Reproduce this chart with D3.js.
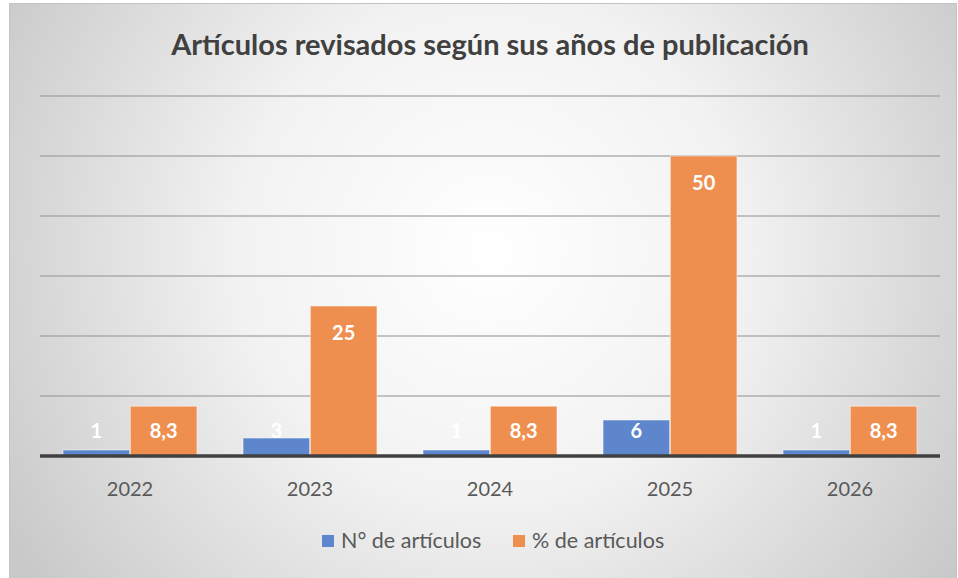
<!DOCTYPE html>
<html>
<head>
<meta charset="utf-8">
<script src="https://cdn.jsdelivr.net/npm/d3@7"></script>
<style>
  html, body { margin: 0; padding: 0; background: #ffffff; }
  svg text { font-family: Lato, "Open Sans", sans-serif; }
</style>
</head>
<body>
<div id="container"></div>
<script>
/* DATA */
const years = ["2022", "2023", "2024", "2025", "2026"];
const numArticulos = [1, 3, 1, 6, 1];
const pctArticulos = [8.3, 25, 8.3, 50, 8.3];
const seriesNames = ["N° de artículos", "% de artículos"];
const yTicks = [0, 10, 20, 30, 40, 50, 60];

/* CONSTANTS */
const width = 958, height = 578;
const margin = {top: 96, bottom: 122, left: 40, right: 18};
const colors = ["#5E86CD", "#EF8F4F"];

const svg = d3.select("#container").append("svg")
    .attr("width", width)
    .attr("height", height);

// background gradient
const defs = svg.append("defs");
const grad = defs.append("radialGradient")
    .attr("id", "bg")
    .attr("gradientUnits", "userSpaceOnUse")
    .attr("cx", 490).attr("cy", 250).attr("r", 560);
grad.append("stop").attr("offset", "0%").attr("stop-color", "#ffffff");
grad.append("stop").attr("offset", "45%").attr("stop-color", "#f2f2f2");
grad.append("stop").attr("offset", "100%").attr("stop-color", "#c9c9c9");

svg.append("rect")
    .attr("x", 9.5).attr("y", 3.5)
    .attr("width", 947).attr("height", 580)
    .attr("fill", "url(#bg)")
    .attr("stroke", "#c4c4c4")
    .attr("stroke-width", 1);

/* SCALES */
const x0 = d3.scaleBand()
    .domain(years)
    .range([margin.left, width - margin.right])
    .paddingInner(0.256)
    .paddingOuter(0.128);

const x1 = d3.scaleBand()
    .domain([0, 1])
    .range([0, x0.bandwidth()])
    .paddingInner(0.01);

const y = d3.scaleLinear()
    .domain([0, 60])
    .range([height - margin.bottom, margin.top]);

const plotLeft = margin.left, plotRight = width - margin.right;

// gridlines
svg.append("g")
    .selectAll("line")
    .data(yTicks.filter(d => d > 0))
    .join("line")
    .attr("x1", plotLeft).attr("x2", plotRight)
    .attr("y1", d => y(d)).attr("y2", d => y(d))
    .attr("stroke", "#9a9a9a")
    .attr("stroke-opacity", 0.75)
    .attr("stroke-width", 1.5);

// bars
const rows = years.map((yr, i) => ({year: yr, vals: [numArticulos[i], pctArticulos[i]]}));
const groups = svg.append("g")
    .selectAll("g")
    .data(rows)
    .join("g")
    .attr("transform", d => `translate(${x0(d.year)},0)`);

groups.selectAll("rect")
    .data(d => d.vals.map((v, s) => ({v, s})))
    .join("rect")
    .attr("x", d => x1(d.s))
    .attr("y", d => y(d.v))
    .attr("width", x1.bandwidth())
    .attr("height", d => y(0) - y(d.v))
    .attr("fill", d => colors[d.s])
    .attr("stroke", "#ffffff")
    .attr("stroke-opacity", 0.5)
    .attr("stroke-width", 1);

// data labels
const fmt = v => String(v).replace(".", ",");
groups.selectAll("text")
    .data(d => d.vals.map((v, s) => ({v, s})))
    .join("text")
    .attr("x", d => x1(d.s) + x1.bandwidth() / 2)
    .attr("y", d => Math.min(y(d.v) + 27, y(0) - 25))
    .attr("dy", "0.36em")
    .attr("text-anchor", "middle")
    .attr("fill", "#ffffff")
    .style("font-size", "20px")
    .style("font-weight", "bold")
    .text(d => fmt(d.v));

// baseline axis
const xAxis = d3.axisBottom(x0).tickSize(0).tickPadding(0);
const axisG = svg.append("g")
    .attr("transform", `translate(0,${y(0)})`)
    .call(xAxis);
axisG.select(".domain")
    .attr("d", `M${plotLeft},0H${plotRight}`)
    .attr("stroke", "#404040")
    .attr("stroke-width", 3.5);
axisG.selectAll("text")
    .attr("y", 40)
    .attr("dy", "0")
    .attr("fill", "#595959")
    .style("font-size", "20px")
    .style("font-family", "Lato, sans-serif");

// title
svg.append("text")
    .attr("x", 490)
    .attr("y", 55)
    .attr("text-anchor", "middle")
    .attr("fill", "#404040")
    .style("font-size", "29px")
    .style("font-weight", "bold")
    .text("Artículos revisados según sus años de publicación");

// legend
const legendX = [322, 513];
const legend = svg.append("g");
seriesNames.forEach((name, i) => {
  legend.append("rect")
      .attr("x", legendX[i]).attr("y", 535)
      .attr("width", 12).attr("height", 12)
      .attr("fill", colors[i]);
  legend.append("text")
      .attr("x", legendX[i] + 19)
      .attr("y", 548)
      .attr("fill", "#595959")
      .style("font-size", "21.5px")
      .text(name);
});
</script>
</body>
</html>
